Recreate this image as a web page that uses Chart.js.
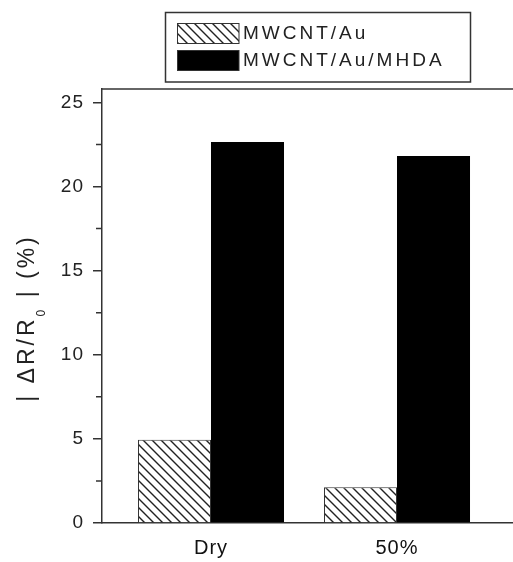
<!DOCTYPE html>
<html>
<head>
<meta charset="utf-8">
<script src="https://cdn.jsdelivr.net/npm/chart.js@4.4.0/dist/chart.umd.min.js"></script>
<style>
html, body { margin: 0; padding: 0; background: #fff; overflow: hidden; }
</style>
</head>
<body>
<canvas id="myChart" width="540" height="562"></canvas>
<script>
var categories = ["Dry", "50%"];
var seriesNames = ["MWCNT/Au", "MWCNT/Au/MHDA"];
var auValues = [4.95, 2.12];
var mhdaValues = [22.65, 21.82];
var yTicks = [0, 5, 10, 15, 20, 25];
var yMinorTicks = [2.5, 7.5, 12.5, 17.5, 22.5];

var FONT = "'Liberation Sans', Arial, sans-serif";

// diagonal hatch like the origin plot
function makeHatch() {
    var c = document.createElement("canvas");
    c.width = 9; c.height = 9;
    var g = c.getContext("2d");
    g.fillStyle = "#fff";
    g.fillRect(0, 0, 9, 9);
    g.strokeStyle = "#222";
    g.lineWidth = 1.4;
    g.beginPath();
    g.moveTo(-1, -1); g.lineTo(10, 10);
    g.moveTo(-1, 8); g.lineTo(1, 10);
    g.moveTo(8, -1); g.lineTo(10, 1);
    g.stroke();
    return g.createPattern(c, "repeat");
}
var hatch = makeHatch();

function points(values) {
    return categories.map(function (c, i) { return { x: i, y: values[i] }; });
}

var extras = {
    id: "extras",
    beforeDraw: function (chart) {
        // tick labels in the original are a bit spread out
        chart.ctx.letterSpacing = "1px";
    },
    afterDraw: function (chart) {
        var ctx = chart.ctx;
        var area = chart.chartArea;
        var ys = chart.scales.y;
        ctx.save();
        // top frame line
        ctx.strokeStyle = "#333";
        ctx.lineWidth = 1.5;
        ctx.beginPath();
        ctx.moveTo(area.left, area.top);
        ctx.lineTo(area.right + 20, area.top);
        ctx.stroke();
        // minor ticks
        ctx.beginPath();
        yMinorTicks.forEach(function (v) {
            var y = ys.getPixelForValue(v);
            ctx.moveTo(area.left - 6, y);
            ctx.lineTo(area.left, y);
        });
        ctx.stroke();

        // legend box
        ctx.lineWidth = 1.5;
        ctx.strokeRect(165.5, 12.5, 305, 69.5);
        var ds = chart.data.datasets;
        var rows = [23, 50];
        ctx.font = "19px " + FONT;
        ctx.letterSpacing = "3px";
        ctx.textBaseline = "alphabetic";
        ctx.textAlign = "left";
        ds.forEach(function (d, i) {
            ctx.fillStyle = d.backgroundColor;
            ctx.fillRect(177, rows[i], 62, 20.5);
            ctx.lineWidth = 1;
            ctx.strokeStyle = "#333";
            ctx.strokeRect(177.5, rows[i] + 0.5, 61.5, 20);
            ctx.fillStyle = "#222";
            ctx.fillText(d.label, 243, rows[i] + 16);
        });

        // y axis title with subscript
        var big = "23px " + FONT, small = "12px " + FONT;
        var parts = [["| \u0394R/R", big, 0], ["0", small, 11], [" | (%)", big, 0]];
        ctx.letterSpacing = "3px";
        var total = 0;
        parts.forEach(function (p) { ctx.font = p[1]; total += ctx.measureText(p[0]).width; });
        ctx.translate(34, 318);
        ctx.rotate(-Math.PI / 2);
        ctx.fillStyle = "#222";
        var x = -total / 2;
        parts.forEach(function (p) {
            ctx.font = p[1];
            ctx.fillText(p[0], x, p[2]);
            x += ctx.measureText(p[0]).width;
        });
        ctx.restore();
        ctx.letterSpacing = "0px";
    }
};

var ctx = document.getElementById("myChart");
var myChart = new Chart(ctx, {
    type: "bar",
    data: {
        datasets: [{
            label: seriesNames[0],
            data: points(auValues),
            backgroundColor: hatch,
            borderColor: "#333",
            borderWidth: 1
        }, {
            label: seriesNames[1],
            data: points(mhdaValues),
            backgroundColor: "#000",
            borderColor: "#000",
            borderWidth: 0
        }]
    },
    options: {
        responsive: false,
        animation: false,
        devicePixelRatio: 1,
        categoryPercentage: 0.785,
        barPercentage: 1,
        layout: { padding: { left: 0, top: 89, right: 10, bottom: 0 } },
        plugins: { legend: { display: false }, tooltip: { enabled: false } },
        scales: {
            x: {
                type: "linear",
                offset: false,
                min: -0.586,
                max: 1.715,
                afterFit: function (s) { s.height = 39; },
                afterBuildTicks: function (s) {
                    s.ticks = categories.map(function (c, i) { return { value: i }; });
                },
                grid: { display: false },
                border: { color: "#333", width: 1.5 },
                ticks: {
                    callback: function (v) { return categories[v]; },
                    font: { family: FONT, size: 20 },
                    color: "#111",
                    padding: 5
                }
            },
            y: {
                min: 0,
                max: 25.8,
                afterFit: function (s) { s.width = 102; },
                afterBuildTicks: function (s) {
                    s.ticks = yTicks.map(function (v) { return { value: v }; });
                },
                grid: { drawOnChartArea: false, tickLength: 9, color: "#333", lineWidth: 1.5 },
                border: { color: "#333", width: 1.5 },
                ticks: {
                    font: { family: FONT, size: 19 },
                    color: "#222",
                    padding: 9
                }
            }
        }
    },
    plugins: [extras]
});
</script>
</body>
</html>
